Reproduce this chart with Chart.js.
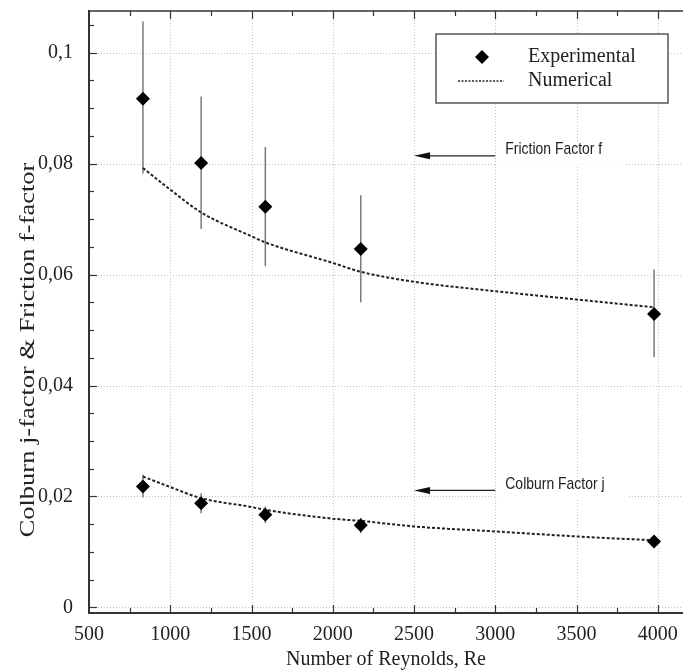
<!DOCTYPE html>
<html>
<head>
<meta charset="utf-8">
<script src="https://cdn.jsdelivr.net/npm/chart.js@4.4.1/dist/chart.umd.min.js"></script>
<style>
    html, body { margin: 0; padding: 0; background: #fff; }
    #wrap { width: 683px; height: 672px; position: relative; }
</style>
</head>
<body>
<div id="wrap"><canvas id="reynoldsChart"></canvas></div>
<script>
// Measured points (Reynolds number, friction factor f, Colburn factor j)
const reExp = [832, 1190, 1585, 2172, 3977];
const fExp = [0.0917, 0.0801, 0.0722, 0.0646, 0.0529];
const fErrLow = [0.0782, 0.0682, 0.0615, 0.0550, 0.0451];
const fErrHigh = [0.1056, 0.0921, 0.0830, 0.0743, 0.0609];
const jExp = [0.0218, 0.0188, 0.0167, 0.0148, 0.0119];
const jErrLow = [0.0198, 0.0170, 0.0152, 0.0134, 0.0113];
const jErrHigh = [0.0239, 0.0206, 0.0182, 0.0161, 0.0125];

// Numerical curves
const reNum = [832, 1000, 1190, 1500, 1585, 2000, 2172, 2500, 3000, 3500, 3977];
const fNum = [0.0792, 0.0753, 0.0712, 0.0669, 0.0658, 0.0621, 0.0605, 0.0587, 0.0570, 0.0555, 0.0541];
const jNum = [0.0236, 0.0217, 0.0197, 0.0181, 0.0176, 0.0160, 0.0156, 0.0146, 0.0137, 0.0128, 0.0121];

// Axis ticks
const xTicks = [500, 1000, 1500, 2000, 2500, 3000, 3500, 4000];
const xTickLabels = ['500', '1000', '1500', '2000', '2500', '3000', '3500', '4000'];
const xMinorTicks = [750, 1250, 1750, 2250, 2750, 3250, 3750];
const yTicks = [0, 0.02, 0.04, 0.06, 0.08, 0.1];
const yTickLabels = ['0', '0,02', '0,04', '0,06', '0,08', '0,1'];
const yMinorTicks = [0.005, 0.01, 0.015, 0.025, 0.03, 0.035, 0.045, 0.05, 0.055,
    0.065, 0.07, 0.075, 0.085, 0.09, 0.095, 0.105];

// Arrow labels: arrow runs from Re 3000 back to Re 2500
const notes = [
    { text: 'Friction Factor f', y: 0.0814 },
    { text: 'Colburn Factor j', y: 0.0211 }
];

const SERIF = '"Liberation Serif", "Times New Roman", serif';
const SANS = '"Liberation Sans", Arial, sans-serif';

function toPoints(xs, ys) {
    return xs.map((x, i) => ({ x: x, y: ys[i] }));
}

function diamond(ctx, x, y, r) {
    ctx.beginPath();
    ctx.moveTo(x - r, y);
    ctx.lineTo(x, y - r);
    ctx.lineTo(x + r, y);
    ctx.lineTo(x, y + r);
    ctx.closePath();
    ctx.fill();
}

const framePlugin = {
    id: 'frame',
    beforeDatasetsDraw(chart) {
        const { ctx, chartArea: a, scales: { x, y } } = chart;
        ctx.save();

        // dotted grid
        ctx.strokeStyle = '#c2c2c2';
        ctx.lineWidth = 1;
        ctx.setLineDash([1, 2]);
        xTicks.forEach(v => {
            if (v === x.min) return;
            const px = Math.round(x.getPixelForValue(v)) + 0.5;
            ctx.beginPath();
            ctx.moveTo(px, a.top);
            ctx.lineTo(px, a.bottom);
            ctx.stroke();
        });
        yTicks.forEach(v => {
            const py = Math.round(y.getPixelForValue(v)) + 0.5;
            ctx.beginPath();
            ctx.moveTo(a.left, py);
            ctx.lineTo(a.right, py);
            ctx.stroke();
        });
        ctx.setLineDash([]);

        // error bars
        ctx.strokeStyle = '#7a7a7a';
        ctx.lineWidth = 1.5;
        reExp.forEach((re, i) => {
            const px = x.getPixelForValue(re);
            [[fErrLow, fErrHigh], [jErrLow, jErrHigh]].forEach(([lo, hi]) => {
                ctx.beginPath();
                ctx.moveTo(px, y.getPixelForValue(lo[i]));
                ctx.lineTo(px, y.getPixelForValue(hi[i]));
                ctx.stroke();
            });
        });
        ctx.restore();
    },
    afterDatasetsDraw(chart) {
        const { ctx, chartArea: a, scales: { x, y } } = chart;
        ctx.save();

        // top frame line
        ctx.strokeStyle = '#333';
        ctx.lineWidth = 1.5;
        ctx.beginPath();
        ctx.moveTo(a.left, a.top);
        ctx.lineTo(a.right, a.top);
        ctx.stroke();

        // inward tick marks
        ctx.lineWidth = 1.2;
        const xMark = (v, len) => {
            const px = Math.round(x.getPixelForValue(v)) + 0.5;
            ctx.beginPath();
            ctx.moveTo(px, a.bottom);
            ctx.lineTo(px, a.bottom - len);
            ctx.moveTo(px, a.top);
            ctx.lineTo(px, a.top + len);
            ctx.stroke();
        };
        xTicks.forEach(v => { if (v !== x.min) xMark(v, 8); });
        xMinorTicks.forEach(v => xMark(v, 5));
        const yMark = (v, len) => {
            const py = Math.round(y.getPixelForValue(v)) + 0.5;
            ctx.beginPath();
            ctx.moveTo(a.left, py);
            ctx.lineTo(a.left + len, py);
            ctx.stroke();
        };
        yTicks.forEach(v => yMark(v, 8));
        yMinorTicks.forEach(v => yMark(v, 5));

        // legend box
        const lx = 436, ly = 34, lw = 232, lh = 69;
        ctx.fillStyle = '#fff';
        ctx.fillRect(lx, ly, lw, lh);
        ctx.strokeStyle = '#555';
        ctx.lineWidth = 1.5;
        ctx.strokeRect(lx, ly, lw, lh);
        ctx.fillStyle = '#000';
        diamond(ctx, lx + 46, ly + 23, 7);
        ctx.strokeStyle = '#222';
        ctx.lineWidth = 1.5;
        ctx.setLineDash([2, 1.5]);
        ctx.beginPath();
        ctx.moveTo(lx + 22, ly + 47);
        ctx.lineTo(lx + 68, ly + 47);
        ctx.stroke();
        ctx.setLineDash([]);
        ctx.fillStyle = '#222';
        ctx.font = '20px ' + SERIF;
        ctx.textAlign = 'left';
        ctx.textBaseline = 'middle';
        ctx.fillText(chart.data.datasets[0].label, lx + 92, ly + 23);
        ctx.fillText(chart.data.datasets[1].label, lx + 92, ly + 47);

        // arrows with labels
        ctx.font = '15px ' + SANS;
        notes.forEach(n => {
            const py = y.getPixelForValue(n.y);
            const x0 = x.getPixelForValue(3000);
            const x1 = x.getPixelForValue(2500);
            const tw = ctx.measureText(n.text).width;
            ctx.fillStyle = '#fff';
            ctx.fillRect(x0 + 2, py - 13, tw + 24, 22);
            ctx.strokeStyle = '#222';
            ctx.lineWidth = 1.2;
            ctx.beginPath();
            ctx.moveTo(x0, py);
            ctx.lineTo(x1 + 8, py);
            ctx.stroke();
            ctx.fillStyle = '#111';
            ctx.beginPath();
            ctx.moveTo(x1, py);
            ctx.lineTo(x1 + 16, py - 3.5);
            ctx.lineTo(x1 + 16, py + 3.5);
            ctx.closePath();
            ctx.fill();
            ctx.fillStyle = '#222';
            ctx.save();
            ctx.translate(x0 + 10, py - 6);
            ctx.scale(0.93, 1.08);
            ctx.fillText(n.text, 0, 0);
            ctx.restore();
        });

        // y axis title, drawn long like the original scan
        ctx.translate(28, 350);
        ctx.rotate(-Math.PI / 2);
        ctx.scale(1.26, 1);
        ctx.font = '21px ' + SERIF;
        ctx.textAlign = 'center';
        ctx.fillStyle = '#222';
        ctx.fillText('Colburn j-factor & Friction f-factor', 0, 0);
        ctx.restore();
    }
};

const ctx = document.getElementById('reynoldsChart').getContext('2d');

new Chart(ctx, {
    type: 'scatter',
    data: {
        datasets: [{
            label: 'Experimental',
            data: toPoints(reExp, fExp),
            pointStyle: 'rectRot',
            pointRadius: 7,
            backgroundColor: '#000',
            borderWidth: 0
        }, {
            label: 'Numerical',
            data: toPoints(reNum, fNum),
            showLine: true,
            borderColor: '#222',
            borderWidth: 2,
            borderDash: [3, 2],
            pointRadius: 0,
            cubicInterpolationMode: 'monotone'
        }, {
            label: 'Experimental j',
            data: toPoints(reExp, jExp),
            pointStyle: 'rectRot',
            pointRadius: 7,
            backgroundColor: '#000',
            borderWidth: 0
        }, {
            label: 'Numerical j',
            data: toPoints(reNum, jNum),
            showLine: true,
            borderColor: '#222',
            borderWidth: 2,
            borderDash: [3, 2],
            pointRadius: 0,
            cubicInterpolationMode: 'monotone'
        }]
    },
    options: {
        responsive: true,
        maintainAspectRatio: false,
        animation: false,
        layout: {
            autoPadding: false,
            padding: { top: 11, right: 0, bottom: 0, left: 0 }
        },
        scales: {
            x: {
                type: 'linear',
                min: 500,
                max: 4155,
                afterBuildTicks: function (scale) {
                    scale.ticks = xTicks.map(v => ({ value: v }));
                },
                afterFit: function (scale) {
                    scale.height = 59;
                    scale.paddingLeft = 0;
                    scale.paddingRight = 0;
                },
                grid: { display: false },
                border: { display: true, color: '#333', width: 2 },
                ticks: {
                    autoSkip: false,
                    maxRotation: 0,
                    padding: 2,
                    color: '#222',
                    font: { family: SERIF, size: 20 },
                    callback: function (value, index) {
                        return xTickLabels[index];
                    }
                },
                title: {
                    display: true,
                    text: 'Number of Reynolds, Re',
                    color: '#222',
                    font: { family: SERIF, size: 20 },
                    padding: { top: 0, bottom: 0 }
                }
            },
            y: {
                type: 'linear',
                min: -0.001,
                max: 0.1075,
                afterBuildTicks: function (scale) {
                    scale.ticks = yTicks.map(v => ({ value: v }));
                },
                afterFit: function (scale) {
                    scale.width = 89;
                    scale.paddingTop = 0;
                    scale.paddingBottom = 0;
                },
                grid: { display: false },
                border: { display: true, color: '#333', width: 2 },
                ticks: {
                    autoSkip: false,
                    padding: 8,
                    color: '#222',
                    font: { family: SERIF, size: 20 },
                    callback: function (value, index) {
                        return yTickLabels[index];
                    }
                }
            }
        },
        plugins: {
            legend: { display: false },
            tooltip: { enabled: false }
        }
    },
    plugins: [framePlugin]
});
</script>
</body>
</html>
